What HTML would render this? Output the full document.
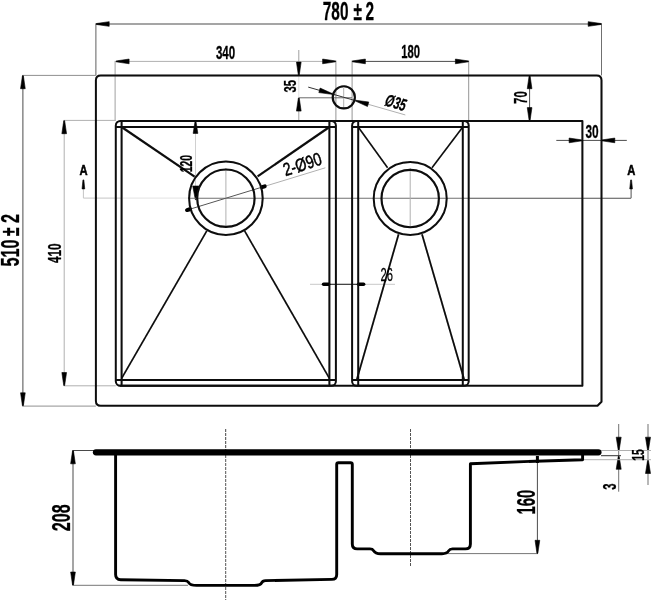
<!DOCTYPE html>
<html lang="en">
<head>
<meta charset="utf-8">
<title>Sink technical drawing</title>
<style>
html,body{margin:0;padding:0;background:#fff;}
body{width:651px;height:600px;overflow:hidden;}
svg{display:block;font-family:"Liberation Sans","DejaVu Sans",sans-serif;}
</style>
</head>
<body>
<svg width="651" height="600" viewBox="0 0 651 600">
<defs><filter id="soft" x="0" y="0" width="651" height="600" filterUnits="userSpaceOnUse"><feGaussianBlur stdDeviation="0.35"/></filter></defs>
<rect width="651" height="600" fill="#fff"/>
<g filter="url(#soft)">
<line x1="95.90" y1="24.00" x2="601.50" y2="24.00" stroke="#4a4a4a" stroke-width="1" />
<line x1="95.90" y1="23.50" x2="95.90" y2="75.40" stroke="#606060" stroke-width="1" />
<line x1="601.50" y1="23.50" x2="601.50" y2="75.40" stroke="#707070" stroke-width="1" />
<polygon points="96.20,24.45 109.20,26.35 109.20,21.65 96.20,23.55" fill="#000" stroke="#000" stroke-width="0.6" stroke-linejoin="round"/>
<polygon points="601.20,23.55 588.20,21.65 588.20,26.35 601.20,24.45" fill="#000" stroke="#000" stroke-width="0.6" stroke-linejoin="round"/>
<line x1="115.80" y1="61.40" x2="335.90" y2="61.40" stroke="#b0b0b0" stroke-width="1" />
<line x1="115.10" y1="60.90" x2="115.10" y2="120.90" stroke="#a0a0a0" stroke-width="1" />
<line x1="335.90" y1="60.50" x2="335.90" y2="120.90" stroke="#959595" stroke-width="1" />
<polygon points="116.10,61.85 129.10,63.75 129.10,59.05 116.10,60.95" fill="#000" stroke="#000" stroke-width="0.6" stroke-linejoin="round"/>
<polygon points="335.60,60.95 322.60,59.05 322.60,63.75 335.60,61.85" fill="#000" stroke="#000" stroke-width="0.6" stroke-linejoin="round"/>
<line x1="352.10" y1="61.40" x2="468.70" y2="61.40" stroke="#4a4a4a" stroke-width="1" />
<line x1="352.10" y1="60.50" x2="352.10" y2="120.90" stroke="#959595" stroke-width="1" />
<line x1="468.70" y1="60.50" x2="468.70" y2="120.90" stroke="#959595" stroke-width="1" />
<polygon points="352.40,61.85 365.40,63.75 365.40,59.05 352.40,60.95" fill="#000" stroke="#000" stroke-width="0.6" stroke-linejoin="round"/>
<polygon points="468.40,60.95 455.40,59.05 455.40,63.75 468.40,61.85" fill="#000" stroke="#000" stroke-width="0.6" stroke-linejoin="round"/>
<line x1="22.90" y1="75.40" x2="22.90" y2="405.70" stroke="#4a4a4a" stroke-width="1" />
<line x1="22.40" y1="75.40" x2="95.90" y2="75.40" stroke="#909090" stroke-width="1" />
<line x1="22.40" y1="406.10" x2="95.90" y2="406.10" stroke="#909090" stroke-width="1" />
<polygon points="22.45,75.70 20.55,88.70 25.25,88.70 23.35,75.70" fill="#000" stroke="#000" stroke-width="0.6" stroke-linejoin="round"/>
<polygon points="23.35,405.80 25.25,392.80 20.55,392.80 22.45,405.80" fill="#000" stroke="#000" stroke-width="0.6" stroke-linejoin="round"/>
<line x1="64.20" y1="120.40" x2="64.20" y2="385.80" stroke="#b0b0b0" stroke-width="1" />
<line x1="63.70" y1="120.40" x2="115.80" y2="120.40" stroke="#b0b0b0" stroke-width="1" />
<line x1="63.70" y1="385.80" x2="115.80" y2="385.80" stroke="#b0b0b0" stroke-width="1" />
<polygon points="63.75,120.70 61.85,133.70 66.55,133.70 64.65,120.70" fill="#000" stroke="#000" stroke-width="0.6" stroke-linejoin="round"/>
<polygon points="64.65,385.50 66.55,372.50 61.85,372.50 63.75,385.50" fill="#000" stroke="#000" stroke-width="0.6" stroke-linejoin="round"/>
<line x1="298.80" y1="50.00" x2="298.80" y2="75.40" stroke="#a0a0a0" stroke-width="1" />
<line x1="298.80" y1="75.40" x2="298.80" y2="97.80" stroke="#e0e0e0" stroke-width="1" />
<line x1="298.80" y1="97.80" x2="298.80" y2="120.90" stroke="#a0a0a0" stroke-width="1" />
<line x1="298.80" y1="97.80" x2="352.00" y2="97.80" stroke="#6a6a6a" stroke-width="1" />
<polygon points="299.25,75.10 301.15,62.10 296.45,62.10 298.35,75.10" fill="#000" stroke="#000" stroke-width="0.6" stroke-linejoin="round"/>
<polygon points="298.35,98.10 296.45,111.10 301.15,111.10 299.25,98.10" fill="#000" stroke="#000" stroke-width="0.6" stroke-linejoin="round"/>
<line x1="529.60" y1="75.40" x2="529.60" y2="120.90" stroke="#4a4a4a" stroke-width="1" />
<polygon points="529.15,75.70 527.25,88.70 531.95,88.70 530.05,75.70" fill="#000" stroke="#000" stroke-width="0.6" stroke-linejoin="round"/>
<polygon points="530.05,120.60 531.95,107.60 527.25,107.60 529.15,120.60" fill="#000" stroke="#000" stroke-width="0.6" stroke-linejoin="round"/>
<line x1="556.30" y1="140.40" x2="626.80" y2="140.40" stroke="#4a4a4a" stroke-width="1" />
<polygon points="582.10,139.95 569.10,138.05 569.10,142.75 582.10,140.85" fill="#000" stroke="#000" stroke-width="0.6" stroke-linejoin="round"/>
<polygon points="601.80,140.85 614.80,142.75 614.80,138.05 601.80,139.95" fill="#000" stroke="#000" stroke-width="0.6" stroke-linejoin="round"/>
<line x1="195.50" y1="120.90" x2="195.50" y2="199.00" stroke="#d0d0d0" stroke-width="1" />
<polygon points="195.05,121.20 193.15,133.40 197.85,133.40 195.95,121.20" fill="#000" stroke="#000" stroke-width="0.6" stroke-linejoin="round"/>
<polygon points="196.25,199.70 198.90,186.00 192.70,186.00 195.35,199.70" fill="#000" stroke="#000" stroke-width="0.6" stroke-linejoin="round"/>
<line x1="83.40" y1="198.10" x2="122.50" y2="198.10" stroke="#c4c4c4" stroke-width="1" />
<line x1="122.50" y1="198.10" x2="188.50" y2="198.10" stroke="#e2e2e2" stroke-width="1" />
<line x1="188.50" y1="198.30" x2="470.00" y2="198.30" stroke="#707070" stroke-width="1.1" />
<line x1="470.00" y1="198.30" x2="631.10" y2="198.30" stroke="#505050" stroke-width="1.1" />
<line x1="83.40" y1="186.00" x2="83.40" y2="198.10" stroke="#c4c4c4" stroke-width="1" />
<line x1="631.10" y1="186.00" x2="631.10" y2="198.10" stroke="#505050" stroke-width="1" />
<polygon points="82.95,179.90 82.05,188.90 84.75,188.90 83.85,179.90" fill="#000" stroke="#000" stroke-width="0.6" stroke-linejoin="round"/>
<polygon points="630.65,179.90 629.75,188.90 632.45,188.90 631.55,179.90" fill="#000" stroke="#000" stroke-width="0.6" stroke-linejoin="round"/>
<line x1="225.90" y1="168.00" x2="225.90" y2="228.00" stroke="#b0b0b0" stroke-width="1" />
<line x1="410.20" y1="168.00" x2="410.20" y2="228.00" stroke="#b0b0b0" stroke-width="1" />
<line x1="343.70" y1="88.00" x2="343.70" y2="108.00" stroke="#b0b0b0" stroke-width="1" />
<line x1="185.74" y1="210.48" x2="266.06" y2="185.92" stroke="#555" stroke-width="1" />
<line x1="266.06" y1="185.92" x2="325.36" y2="167.79" stroke="#b0b0b0" stroke-width="1" />
<line x1="189.75" y1="209.25" x2="187.07" y2="210.07" stroke="#000" stroke-width="4.0" stroke-linecap="round"/>
<line x1="262.05" y1="187.15" x2="264.73" y2="186.33" stroke="#000" stroke-width="4.0" stroke-linecap="round"/>
<line x1="308.23" y1="87.10" x2="355.34" y2="100.61" stroke="#333" stroke-width="1" />
<line x1="355.34" y1="100.61" x2="405.32" y2="114.94" stroke="#b0b0b0" stroke-width="1" />
<polygon points="332.10,93.48 320.13,88.07 318.83,92.59 331.85,94.34" fill="#000" stroke="#000" stroke-width="0.6" stroke-linejoin="round"/>
<polygon points="355.50,101.12 367.47,106.53 368.77,102.01 355.75,100.26" fill="#000" stroke="#000" stroke-width="0.6" stroke-linejoin="round"/>
<line x1="310.00" y1="284.30" x2="395.00" y2="284.30" stroke="#c8c8c8" stroke-width="1" />
<line x1="323.00" y1="284.30" x2="364.50" y2="284.30" stroke="#444" stroke-width="1.2" />
<line x1="323.60" y1="284.30" x2="328.60" y2="284.30" stroke="#000" stroke-width="3.6" stroke-linecap="round"/>
<line x1="358.60" y1="284.30" x2="363.60" y2="284.30" stroke="#000" stroke-width="3.6" stroke-linecap="round"/>
<g fill="none" stroke="#0a0a0a" stroke-width="2.0" stroke-linejoin="round">
<path d="M100.7,75.4 H596.7 Q601.5,75.4 601.5,80.2 V401.7 L597.5,405.7 H100.7 Q95.9,405.7 95.9,400.9 V80.2 Q95.9,75.4 100.7,75.4 Z"/>
<path d="M119.8,120.9 H582.4 V385.8 H119.8"/>
<rect x="115.8" y="120.9" width="220.10" height="264.90" rx="4.6" ry="4.6"/>
<path d="M121.6,120.9 V385.8 M329.4,120.9 V385.8 M115.8,127.0 H335.9 M115.8,379.9 H335.9"/>
<rect x="352.1" y="120.9" width="116.60" height="264.90" rx="4.6" ry="4.6"/>
<path d="M358.2,120.9 V385.8 M462.8,120.9 V385.8 M352.1,127.0 H468.7 M352.1,379.9 H468.7"/>
<circle cx="225.9" cy="198.2" r="36.8"/>
<circle cx="225.9" cy="198.2" r="28.7" stroke-width="2.15"/>
<circle cx="410.2" cy="198.5" r="36.5"/>
<circle cx="410.2" cy="198.5" r="28.7" stroke-width="2.15"/>
<circle cx="343.8" cy="97.3" r="11.1" stroke-width="2.15"/>
<line x1="121.60" y1="127.00" x2="194.60" y2="176.60" stroke-width="2.2"/>
<line x1="329.40" y1="127.00" x2="257.60" y2="176.40" stroke-width="2.2"/>
<line x1="121.60" y1="378.40" x2="206.80" y2="230.90" stroke-width="1.7"/>
<line x1="329.40" y1="378.40" x2="244.60" y2="230.90" stroke-width="1.7"/>
<line x1="358.20" y1="127.00" x2="387.60" y2="167.80" stroke-width="1.6"/>
<line x1="462.80" y1="127.00" x2="432.00" y2="167.80" stroke-width="1.6"/>
<line x1="356.70" y1="379.90" x2="398.60" y2="234.30" stroke-width="1.8"/>
<line x1="464.30" y1="379.90" x2="422.00" y2="234.30" stroke-width="1.8"/>
</g>
<line x1="225.70" y1="429.00" x2="225.70" y2="450.00" stroke="#444" stroke-width="1" stroke-dasharray="3 1"/>
<line x1="225.70" y1="455.00" x2="225.70" y2="600.00" stroke="#555" stroke-width="1" stroke-dasharray="3 1"/>
<line x1="410.50" y1="429.00" x2="410.50" y2="450.00" stroke="#555" stroke-width="1" stroke-dasharray="3 1"/>
<line x1="410.50" y1="455.00" x2="410.50" y2="567.00" stroke="#555" stroke-width="1" stroke-dasharray="3 1"/>
<line x1="73.00" y1="450.50" x2="73.00" y2="585.30" stroke="#4a4a4a" stroke-width="1" />
<line x1="72.50" y1="450.50" x2="95.00" y2="450.50" stroke="#4a4a4a" stroke-width="1" />
<line x1="72.50" y1="585.30" x2="188.00" y2="585.30" stroke="#777" stroke-width="1" />
<polygon points="72.55,450.80 70.65,463.80 75.35,463.80 73.45,450.80" fill="#000" stroke="#000" stroke-width="0.6" stroke-linejoin="round"/>
<polygon points="73.45,585.00 75.35,572.00 70.65,572.00 72.55,585.00" fill="#000" stroke="#000" stroke-width="0.6" stroke-linejoin="round"/>
<line x1="537.40" y1="460.00" x2="537.40" y2="553.60" stroke="#4a4a4a" stroke-width="1" />
<line x1="447.00" y1="553.60" x2="538.00" y2="553.60" stroke="#777" stroke-width="1" />
<polygon points="537.85,553.30 539.75,540.30 535.05,540.30 536.95,553.30" fill="#000" stroke="#000" stroke-width="0.6" stroke-linejoin="round"/>
<line x1="537.40" y1="456.00" x2="537.40" y2="463.00" stroke="#000" stroke-width="3" />
<line x1="618.70" y1="424.00" x2="618.70" y2="491.70" stroke="#707070" stroke-width="1" />
<polygon points="619.15,450.20 621.20,437.20 616.20,437.20 618.25,450.20" fill="#000" stroke="#000" stroke-width="0.6" stroke-linejoin="round"/>
<polygon points="618.25,456.30 616.20,469.30 621.20,469.30 619.15,456.30" fill="#000" stroke="#000" stroke-width="0.6" stroke-linejoin="round"/>
<line x1="648.00" y1="424.00" x2="648.00" y2="485.00" stroke="#707070" stroke-width="1" />
<polygon points="648.45,450.20 650.50,437.20 645.50,437.20 647.55,450.20" fill="#000" stroke="#000" stroke-width="0.6" stroke-linejoin="round"/>
<polygon points="647.55,460.50 645.50,473.50 650.50,473.50 648.45,460.50" fill="#000" stroke="#000" stroke-width="0.6" stroke-linejoin="round"/>
<line x1="601.00" y1="450.50" x2="651.00" y2="450.50" stroke="#b0b0b0" stroke-width="1" />
<line x1="601.00" y1="455.70" x2="621.00" y2="455.70" stroke="#333" stroke-width="1" />
<line x1="583.00" y1="459.70" x2="651.00" y2="459.70" stroke="#b0b0b0" stroke-width="1" />
<line x1="96.0" y1="452.3" x2="598.4" y2="452.3" stroke="#000" stroke-width="6.3" stroke-linecap="round"/>
<g fill="none" stroke="#000" stroke-width="2.9" stroke-linejoin="round" stroke-linecap="round">
<path d="M115.6,455 V574.5 Q115.6,579.6 120.7,579.7 L184.5,580.6 Q187.5,580.7 188.7,582.6 Q190.2,585.4 196.5,585.4 H254.5 Q260.5,585.4 261.6,582.9 Q262.6,580.7 265.5,580.6 L331.8,579.4 Q336.7,579.3 336.7,574.4 V464.5 Q336.7,462.8 338.4,462.8 H350.6 Q352.3,462.8 352.3,464.5 V544 Q352.3,548.9 357.2,548.9 H370 Q372.5,548.9 373.6,550.7 Q375.4,553.7 380.5,553.7 H442 Q447,553.7 448.6,550.9 Q449.8,548.9 452.5,548.9 H465.4 Q470.4,548.9 470.4,543.9 V463.8 L535,461.2 L582.6,459.7 V455"/>
</g>
<text transform="translate(322.8,11.0) scale(0.585,1)" font-size="26.3" font-weight="bold" fill="#000" stroke="#000" stroke-width="0.3" stroke-linejoin="round" dominant-baseline="central" dx="0 0 0 8.5 6.3">780±2</text>
<text transform="translate(9.9,266.4) rotate(-90) scale(0.615,1)" font-size="26.3" font-weight="bold" fill="#000" stroke="#000" stroke-width="0.3" stroke-linejoin="round" dominant-baseline="central" dx="0 0 0 5.2 7.0">510±2</text>
<text transform="translate(61.00,517.80) rotate(-90) scale(0.615,1)" font-size="26.3" font-weight="bold" font-style="normal" fill="#000" stroke="#000" stroke-width="0.3" stroke-linejoin="round" text-anchor="middle" dominant-baseline="central" letter-spacing="0">208</text>
<text transform="translate(526.00,502.20) rotate(-90) scale(0.58,1)" font-size="25.5" font-weight="bold" font-style="normal" fill="#000" stroke="#000" stroke-width="0.3" stroke-linejoin="round" text-anchor="middle" dominant-baseline="central" letter-spacing="0">160</text>
<text transform="translate(225.50,52.00) rotate(0) scale(0.64,1)" font-size="18.0" font-weight="bold" font-style="normal" fill="#000" stroke="#000" stroke-width="0.3" stroke-linejoin="round" text-anchor="middle" dominant-baseline="central" letter-spacing="0">340</text>
<text transform="translate(410.70,51.80) rotate(0) scale(0.63,1)" font-size="17.9" font-weight="bold" font-style="normal" fill="#000" stroke="#000" stroke-width="0.3" stroke-linejoin="round" text-anchor="middle" dominant-baseline="central" letter-spacing="0">180</text>
<text transform="translate(54.60,253.20) rotate(-90) scale(0.64,1)" font-size="18.3" font-weight="bold" font-style="normal" fill="#000" stroke="#000" stroke-width="0.3" stroke-linejoin="round" text-anchor="middle" dominant-baseline="central" letter-spacing="0">410</text>
<text transform="translate(289.60,86.30) rotate(-90) scale(0.66,1)" font-size="17.0" font-weight="bold" font-style="normal" fill="#000" stroke="#000" stroke-width="0.3" stroke-linejoin="round" text-anchor="middle" dominant-baseline="central" letter-spacing="0">35</text>
<text transform="translate(520.30,97.60) rotate(-90) scale(0.64,1)" font-size="17.8" font-weight="bold" font-style="normal" fill="#000" stroke="#000" stroke-width="0.3" stroke-linejoin="round" text-anchor="middle" dominant-baseline="central" letter-spacing="0">70</text>
<text transform="translate(592.00,131.00) rotate(0) scale(0.64,1)" font-size="18.5" font-weight="bold" font-style="normal" fill="#000" stroke="#000" stroke-width="0.3" stroke-linejoin="round" text-anchor="middle" dominant-baseline="central" letter-spacing="0">30</text>
<text transform="translate(186.20,163.70) rotate(-90) scale(0.63,1)" font-size="16.4" font-weight="bold" font-style="normal" fill="#000" stroke="#000" stroke-width="0.3" stroke-linejoin="round" text-anchor="middle" dominant-baseline="central" letter-spacing="0">120</text>
<text transform="translate(302.20,163.90) rotate(-18) scale(0.78,1)" font-size="18.2" font-weight="normal" font-style="normal" fill="#000" stroke="#000" stroke-width="0.5" stroke-linejoin="round" text-anchor="middle" dominant-baseline="central" letter-spacing="0">2-Ø90</text>
<text transform="translate(395.80,102.50) rotate(16) scale(0.66,1)" font-size="17" font-weight="bold" font-style="italic" fill="#000" stroke="#000" stroke-width="0.3" stroke-linejoin="round" text-anchor="middle" dominant-baseline="central" letter-spacing="0">Ø35</text>
<text transform="translate(386.80,274.70) rotate(0) scale(0.62,1)" font-size="18" font-weight="normal" font-style="normal" fill="#000" stroke="#000" stroke-width="0.3" stroke-linejoin="round" text-anchor="middle" dominant-baseline="central" letter-spacing="0">26</text>
<text transform="translate(610.40,486.60) rotate(-90) scale(0.64,1)" font-size="17.5" font-weight="bold" font-style="normal" fill="#000" stroke="#000" stroke-width="0.3" stroke-linejoin="round" text-anchor="middle" dominant-baseline="central" letter-spacing="0">3</text>
<text transform="translate(638.40,455.00) rotate(-90) scale(0.62,1)" font-size="16.5" font-weight="bold" font-style="normal" fill="#000" stroke="#000" stroke-width="0.3" stroke-linejoin="round" text-anchor="middle" dominant-baseline="central" letter-spacing="0">15</text>
<text transform="translate(83.60,169.40) rotate(0) scale(0.73,1)" font-size="15.4" font-weight="bold" font-style="normal" fill="#000" stroke="#000" stroke-width="0.6" stroke-linejoin="round" text-anchor="middle" dominant-baseline="central" letter-spacing="0">A</text>
<text transform="translate(631.20,169.40) rotate(0) scale(0.73,1)" font-size="15.4" font-weight="bold" font-style="normal" fill="#000" stroke="#000" stroke-width="0.6" stroke-linejoin="round" text-anchor="middle" dominant-baseline="central" letter-spacing="0">A</text>
</g>
</svg>
</body>
</html>
